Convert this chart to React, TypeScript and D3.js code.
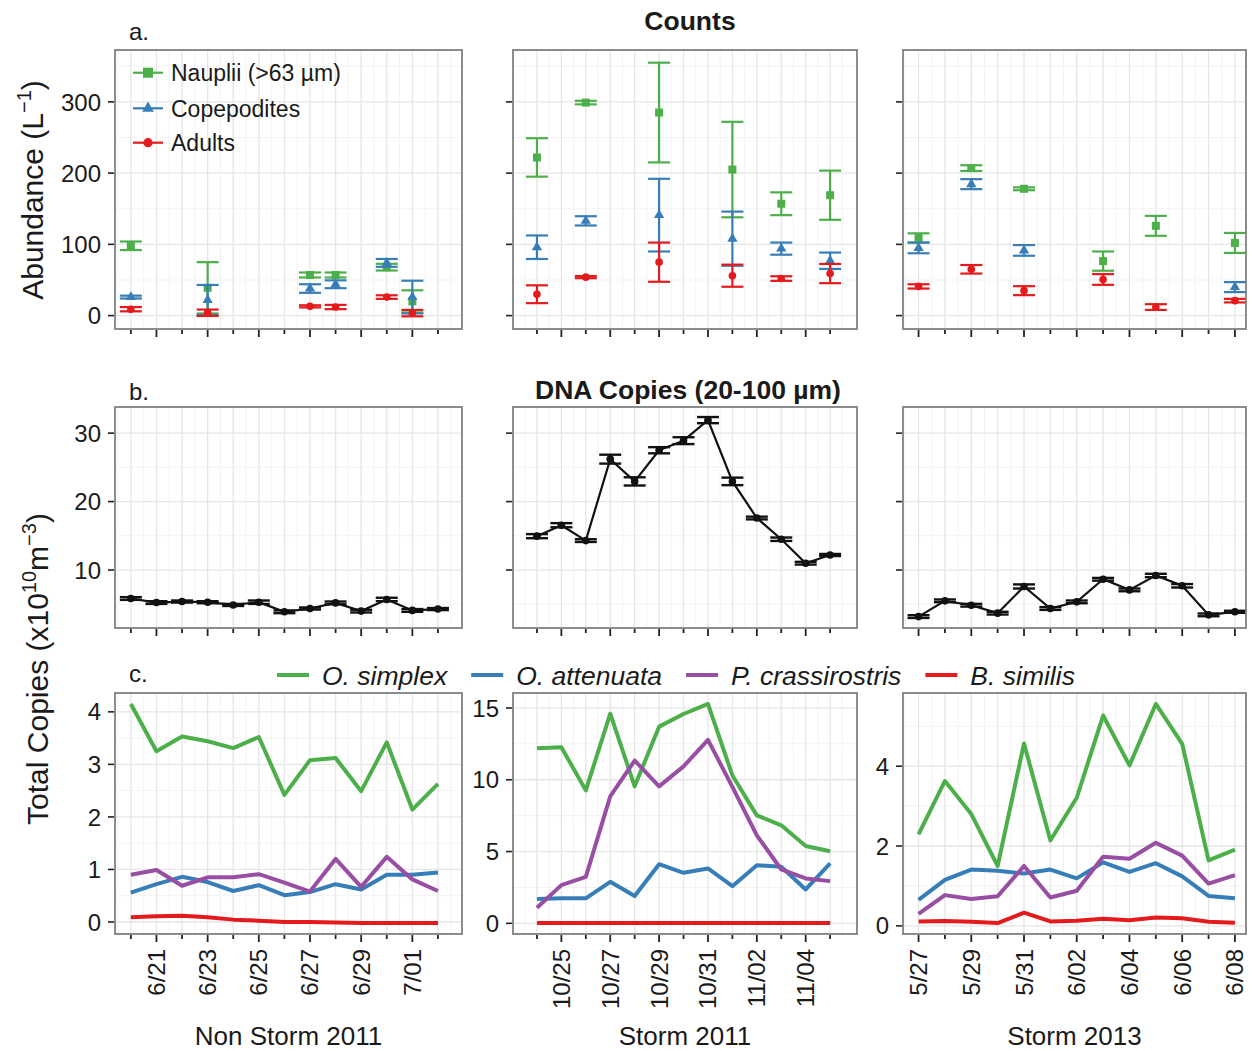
import * as React from "react";
import * as d3 from "d3";

const W = 1252;
const H = 1051;
const FONT = "'Liberation Sans', Arial, Helvetica, sans-serif";

const GREEN = "#4daf4a";
const BLUE = "#377eb8";
const PURPLE = "#984ea3";
const RED = "#e41a1c";

// sampling days on each x axis
const nonStorm2011Days = ["2011-06-20", "2011-06-21", "2011-06-22", "2011-06-23", "2011-06-24", "2011-06-25", "2011-06-26", "2011-06-27", "2011-06-28", "2011-06-29", "2011-06-30", "2011-07-01", "2011-07-02"];
const storm2011Days = ["2011-10-24", "2011-10-25", "2011-10-26", "2011-10-27", "2011-10-28", "2011-10-29", "2011-10-30", "2011-10-31", "2011-11-01", "2011-11-02", "2011-11-03", "2011-11-04", "2011-11-05"];
const storm2013Days = ["2013-05-27", "2013-05-28", "2013-05-29", "2013-05-30", "2013-05-31", "2013-06-01", "2013-06-02", "2013-06-03", "2013-06-04", "2013-06-05", "2013-06-06", "2013-06-07", "2013-06-08"];

const nonStorm2011Labels = ["6/21", "6/23", "6/25", "6/27", "6/29", "7/01"];
const storm2011Labels = ["10/25", "10/27", "10/29", "10/31", "11/02", "11/04"];
const storm2013Labels = ["5/27", "5/29", "5/31", "6/02", "6/04", "6/06", "6/08"];

const groupNames = ["Non Storm 2011", "Storm 2011", "Storm 2013"];

/* a. counts, mean and se (per L) */
const countDaysNonStorm2011 = ["2011-06-20", "2011-06-23", "2011-06-27", "2011-06-28", "2011-06-30", "2011-07-01"];
const naupliiNonStorm2011 = [98, 39, 57, 57, 68, 20];
const naupliiNonStorm2011Se = [6, 36, 3.5, 3.5, 4.7, 15.5];
const copepoditesNonStorm2011 = [26, 22, 38, 44, 74, 26];
const copepoditesNonStorm2011Se = [2, 21, 6, 5.5, 5.5, 23];
const adultsNonStorm2011 = [9, 4, 13, 12, 26, 3.5];
const adultsNonStorm2011Se = [3, 4.5, 1.5, 3, 2.5, 4.5];

const countDaysStorm2011 = ["2011-10-24", "2011-10-26", "2011-10-29", "2011-11-01", "2011-11-03", "2011-11-05"];
const naupliiStorm2011 = [222, 299, 285, 205, 157, 169];
const naupliiStorm2011Se = [27, 2.5, 70, 67, 16, 34.5];
const copepoditesStorm2011 = [96, 133, 141, 108, 94, 77];
const copepoditesStorm2011Se = [16.5, 6.5, 51, 38, 8.5, 11.5];
const adultsStorm2011 = [30, 54, 75, 56, 52, 59];
const adultsStorm2011Se = [12.5, 1.5, 27.5, 15.5, 3.2, 13.5];

const countDaysStorm2013 = ["2013-05-27", "2013-05-29", "2013-05-31", "2013-06-03", "2013-06-05", "2013-06-08"];
const naupliiStorm2013 = [109, 207, 178, 76.5, 126, 102];
const naupliiStorm2013Se = [6.5, 4, 2, 13.5, 14, 14];
const copepoditesStorm2013 = [95, 184.5, 91.5, null, null, 40];
const copepoditesStorm2013Se = [7.5, 7, 7.5, null, null, 7];
const adultsStorm2013 = [41, 65, 35, 50.7, 12, 21];
const adultsStorm2013Se = [3, 6, 6.3, 7.5, 4, 2.5];

/* b. DNA copies (x10^10 m^-3), mean and se */
const dnaNonStorm2011 = [5.84, 5.25, 5.4, 5.3, 4.9, 5.3, 3.9, 4.38, 5.2, 4.0, 5.7, 4.1, 4.3];
const dnaNonStorm2011Se = [0.2, 0.2, 0.15, 0.15, 0.15, 0.25, 0.2, 0.15, 0.2, 0.2, 0.25, 0.2, 0.15];
const dnaStorm2011 = [14.95, 16.55, 14.3, 26.2, 22.95, 27.5, 28.9, 31.9, 22.95, 17.6, 14.5, 11.0, 12.2];
const dnaStorm2011Se = [0.3, 0.3, 0.2, 0.65, 0.6, 0.45, 0.5, 0.45, 0.55, 0.2, 0.25, 0.2, 0.15];
const dnaStorm2013 = [3.2, 5.5, 4.86, 3.7, 7.6, 4.38, 5.35, 8.65, 7.1, 9.2, 7.7, 3.45, 3.9];
const dnaStorm2013Se = [0.2, 0.2, 0.2, 0.2, 0.3, 0.2, 0.2, 0.2, 0.2, 0.25, 0.25, 0.2, 0.15];

/* c. total copies per species */
const simplexNonStorm2011 = [4.15, 3.25, 3.53, 3.44, 3.31, 3.52, 2.42, 3.08, 3.12, 2.49, 3.42, 2.14, 2.63];
const attenuataNonStorm2011 = [0.56, 0.72, 0.86, 0.76, 0.59, 0.7, 0.51, 0.57, 0.72, 0.62, 0.9, 0.9, 0.94];
const crassirostrisNonStorm2011 = [0.9, 0.99, 0.69, 0.85, 0.85, 0.91, 0.75, 0.58, 1.2, 0.67, 1.24, 0.81, 0.59];
const similisNonStorm2011 = [0.09, 0.11, 0.12, 0.09, 0.045, 0.026, 0, 0, -0.01, -0.02, -0.02, -0.02, -0.02];

const simplexStorm2011 = [12.2, 12.27, 9.26, 14.6, 9.54, 13.7, 14.58, 15.28, 10.3, 7.52, 6.83, 5.39, 5.02];
const attenuataStorm2011 = [1.69, 1.74, 1.74, 2.89, 1.9, 4.12, 3.52, 3.82, 2.59, 4.05, 3.94, 2.36, 4.17];
const crassirostrisStorm2011 = [1.09, 2.66, 3.24, 8.84, 11.34, 9.54, 10.93, 12.78, 9.5, 6.13, 3.75, 3.13, 2.94];
const similisStorm2011 = [0.02, 0.02, 0.02, 0.02, 0.02, 0.03, 0.03, 0.03, 0.03, 0.03, 0.03, 0.03, 0.03];

const simplexStorm2013 = [2.29, 3.63, 2.8, 1.5, 4.57, 2.14, 3.21, 5.27, 4.02, 5.56, 4.56, 1.64, 1.91];
const attenuataStorm2013 = [0.65, 1.15, 1.41, 1.38, 1.31, 1.41, 1.19, 1.59, 1.35, 1.57, 1.24, 0.75, 0.69];
const crassirostrisStorm2013 = [0.3, 0.77, 0.67, 0.74, 1.5, 0.71, 0.88, 1.73, 1.68, 2.08, 1.76, 1.06, 1.27];
const similisStorm2013 = [0.11, 0.12, 0.1, 0.07, 0.33, 0.11, 0.13, 0.18, 0.14, 0.21, 0.19, 0.1, 0.08];

const stageNames = ["Nauplii (>63 \u00b5m)", "Copepodites", "Adults"];
const speciesNames = ["O. simplex", "O. attenuata", "P. crassirostris", "B. similis"];

const parseDay = d3.utcParse("%Y-%m-%d");
const fmtDay = d3.utcFormat("%-m/%d");
const DAY = 864e5;

// panel layout
const rowA = { top: 50, bottom: 329 };
const rowB = { top: 407, bottom: 628 };
const rowC = { top: 693, bottom: 934 };

const columns = [
  {
    x0: 115, x1: 462, padL: 0.62, padR: 0.94,
    days: nonStorm2011Days, labels: nonStorm2011Labels, name: groupNames[0],
    countDays: countDaysNonStorm2011,
    counts: [
      [naupliiNonStorm2011, naupliiNonStorm2011Se],
      [copepoditesNonStorm2011, copepoditesNonStorm2011Se],
      [adultsNonStorm2011, adultsNonStorm2011Se],
    ],
    dna: dnaNonStorm2011, dnaSe: dnaNonStorm2011Se,
    copies: [simplexNonStorm2011, attenuataNonStorm2011, crassirostrisNonStorm2011, similisNonStorm2011],
    cStep: 1,
  },
  {
    x0: 513, x1: 857, padL: 0.98, padR: 1.1,
    days: storm2011Days, labels: storm2011Labels, name: groupNames[1],
    countDays: countDaysStorm2011,
    counts: [
      [naupliiStorm2011, naupliiStorm2011Se],
      [copepoditesStorm2011, copepoditesStorm2011Se],
      [adultsStorm2011, adultsStorm2011Se],
    ],
    dna: dnaStorm2011, dnaSe: dnaStorm2011Se,
    copies: [simplexStorm2011, attenuataStorm2011, crassirostrisStorm2011, similisStorm2011],
    cStep: 5,
  },
  {
    x0: 903, x1: 1246, padL: 0.59, padR: 0.42,
    days: storm2013Days, labels: storm2013Labels, name: groupNames[2],
    countDays: countDaysStorm2013,
    counts: [
      [naupliiStorm2013, naupliiStorm2013Se],
      [copepoditesStorm2013, copepoditesStorm2013Se],
      [adultsStorm2013, adultsStorm2013Se],
    ],
    dna: dnaStorm2013, dnaSe: dnaStorm2013Se,
    copies: [simplexStorm2013, attenuataStorm2013, crassirostrisStorm2013, similisStorm2013],
    cStep: 2,
  },
];

const stageColors = [GREEN, BLUE, RED];
const stageShapes = ["square", "triangle", "circle"];
const speciesColors = [GREEN, BLUE, PURPLE, RED];

function expand(lo: number, hi: number): [number, number] {
  const p = (hi - lo) * 0.05;
  return [lo - p, hi + p];
}

function marker(g: any, shape: string, cx: number, cy: number, color: string, big = false) {
  if (shape === "square") {
    const s = big ? 10 : 8;
    g.append("rect").attr("x", cx - s / 2).attr("y", cy - s / 2).attr("width", s).attr("height", s).attr("fill", color);
  } else if (shape === "triangle") {
    g.append("path")
      .attr("d", d3.symbol().type(d3.symbolTriangle).size(big ? 60 : 46)()!)
      .attr("transform", `translate(${cx},${cy})`)
      .attr("fill", color);
  } else {
    g.append("circle").attr("cx", cx).attr("cy", cy).attr("r", big ? 4.6 : 3.8).attr("fill", color);
  }
}

// background + grid of one panel, returns the major y ticks
function panelGrid(g: any, x: any, y: any, days: Date[], yStep: number) {
  const [x0, x1] = x.range();
  const [yb, yt] = y.range();
  const [v0, v1] = y.domain();
  const yMajor = d3.range(Math.ceil(v0 / yStep) * yStep, v1, yStep);
  const half = yStep / 2;
  const yMinor = d3
    .range(Math.ceil(v0 / half) * half, v1, half)
    .filter((v) => Math.abs(v / yStep - Math.round(v / yStep)) > 1e-6);
  const [t0, t1] = x.domain();
  const xMinor = [new Date(+days[0] - DAY / 2), ...days.map((d) => new Date(+d + DAY / 2))].filter(
    (d) => d >= t0 && d <= t1
  );

  g.append("rect").attr("x", x0).attr("y", yt).attr("width", x1 - x0).attr("height", yb - yt).attr("fill", "#fff");

  const grid = g.append("g").attr("fill", "none");
  grid.selectAll(null).data(yMinor).join("line")
    .attr("x1", x0).attr("x2", x1).attr("y1", (d: number) => y(d)).attr("y2", (d: number) => y(d))
    .attr("stroke", "#f3f3f3").attr("stroke-width", 1);
  grid.selectAll(null).data(xMinor).join("line")
    .attr("x1", (d: Date) => x(d)).attr("x2", (d: Date) => x(d)).attr("y1", yt).attr("y2", yb)
    .attr("stroke", "#f3f3f3").attr("stroke-width", 1);
  grid.selectAll(null).data(yMajor).join("line")
    .attr("x1", x0).attr("x2", x1).attr("y1", (d: number) => y(d)).attr("y2", (d: number) => y(d))
    .attr("stroke", "#e6e6e6").attr("stroke-width", 1.3);
  grid.selectAll(null).data(days).join("line")
    .attr("x1", (d: Date) => x(d)).attr("x2", (d: Date) => x(d)).attr("y1", yt).attr("y2", yb)
    .attr("stroke", "#e6e6e6").attr("stroke-width", 1.3);
  return yMajor;
}

// border, ticks and tick labels of one panel
function panelAxes(g: any, x: any, y: any, days: Date[], labels: string[], yMajor: number[], showY: boolean, showX: boolean) {
  const [x0, x1] = x.range();
  const [yb, yt] = y.range();
  g.append("rect").attr("x", x0).attr("y", yt).attr("width", x1 - x0).attr("height", yb - yt)
    .attr("fill", "none").attr("stroke", "#808080").attr("stroke-width", 1.8);

  g.selectAll(null).data(yMajor).join("line")
    .attr("x1", x0 - 7).attr("x2", x0 - 1).attr("y1", (d: number) => y(d)).attr("y2", (d: number) => y(d))
    .attr("stroke", "#222").attr("stroke-width", 1.6);
  if (showY) {
    g.selectAll(null).data(yMajor).join("text")
      .attr("x", x0 - 14).attr("y", (d: number) => y(d)).attr("dy", "0.36em")
      .attr("text-anchor", "end").attr("font-size", 24).attr("fill", "#1a1a1a")
      .text((d: number) => d3.format("d")(d));
  }

  g.selectAll(null).data(days).join("line")
    .attr("x1", (d: Date) => x(d)).attr("x2", (d: Date) => x(d))
    .attr("y1", yb + 1).attr("y2", (d: Date) => yb + (labels.includes(fmtDay(d)) ? 8 : 5))
    .attr("stroke", "#222").attr("stroke-width", 1.8);
  if (showX) {
    const lab = days.filter((d) => labels.includes(fmtDay(d)));
    g.selectAll(null).data(lab).join("text")
      .attr("transform", (d: Date) => `translate(${x(d) + 8.5},${yb + 15}) rotate(-90)`)
      .attr("text-anchor", "end").attr("font-size", 24).attr("fill", "#1a1a1a")
      .text((d: Date) => fmtDay(d));
  }
}

function drawFigure(svgEl: SVGSVGElement) {
  const svg = d3.select(svgEl);
  svg.selectAll("*").remove();
  svg.attr("width", W).attr("height", H).style("font-family", FONT);
  svg.append("rect").attr("width", W).attr("height", H).attr("fill", "#fff");

  // shared y scales for rows a and b
  const countLo: number[] = [];
  const countHi: number[] = [];
  const dnaLo: number[] = [];
  const dnaHi: number[] = [];
  columns.forEach((c) => {
    c.counts.forEach(([m, s]) =>
      m.forEach((v, i) => {
        if (v == null) return;
        countLo.push(v - (s[i] as number));
        countHi.push(v + (s[i] as number));
      })
    );
    c.dna.forEach((v, i) => {
      dnaLo.push(v - c.dnaSe[i]);
      dnaHi.push(v + c.dnaSe[i]);
    });
  });
  const yA = d3.scaleLinear().domain(expand(d3.min(countLo)!, d3.max(countHi)!)).range([rowA.bottom, rowA.top]);
  const yB = d3.scaleLinear().domain(expand(d3.min(dnaLo)!, d3.max(dnaHi)!)).range([rowB.bottom, rowB.top]);

  columns.forEach((c, ci) => {
    const days = c.days.map((d) => parseDay(d)!);
    const x = d3
      .scaleUtc()
      .domain([new Date(+days[0] - c.padL * DAY), new Date(+days[days.length - 1] + c.padR * DAY)])
      .range([c.x0, c.x1]);

    /* a. counts */
    const ga = svg.append("g");
    const ticksA = panelGrid(ga, x, yA, days, 100);
    const cDays = c.countDays.map((d) => parseDay(d)!);
    c.counts.forEach(([mean, se], si) => {
      const pts = cDays
        .map((d, i) => ({ d, m: mean[i], s: se[i] }))
        .filter((p) => p.m != null) as { d: Date; m: number; s: number }[];
      const eg = ga.append("g").attr("stroke", stageColors[si]).attr("stroke-width", 2.2);
      pts.forEach((p) => {
        const cx = x(p.d);
        eg.append("line").attr("x1", cx).attr("x2", cx).attr("y1", yA(p.m - p.s)).attr("y2", yA(p.m + p.s));
        eg.append("line").attr("x1", cx - 11).attr("x2", cx + 11).attr("y1", yA(p.m - p.s)).attr("y2", yA(p.m - p.s));
        eg.append("line").attr("x1", cx - 11).attr("x2", cx + 11).attr("y1", yA(p.m + p.s)).attr("y2", yA(p.m + p.s));
        marker(ga, stageShapes[si], cx, yA(p.m), stageColors[si]);
      });
    });
    panelAxes(ga, x, yA, days, c.labels, ticksA, ci === 0, false);

    /* b. DNA copies */
    const gb = svg.append("g");
    const ticksB = panelGrid(gb, x, yB, days, 10);
    const line = d3.line<number>().x((_, i) => x(days[i])).y((v) => yB(v));
    gb.append("path").attr("d", line(c.dna)).attr("fill", "none").attr("stroke", "#111").attr("stroke-width", 2.2);
    c.dna.forEach((v, i) => {
      const cx = x(days[i]);
      const lo = yB(v - c.dnaSe[i]);
      const hi = yB(v + c.dnaSe[i]);
      gb.append("line").attr("x1", cx).attr("x2", cx).attr("y1", lo).attr("y2", hi).attr("stroke", "#111").attr("stroke-width", 2.2);
      [lo, hi].forEach((yy) =>
        gb.append("line").attr("x1", cx - 11).attr("x2", cx + 11).attr("y1", yy).attr("y2", yy).attr("stroke", "#111").attr("stroke-width", 2.4)
      );
      gb.append("circle").attr("cx", cx).attr("cy", yB(v)).attr("r", 3.8).attr("fill", "#111");
    });
    panelAxes(gb, x, yB, days, c.labels, ticksB, ci === 0, false);

    /* c. total copies per species */
    const all = c.copies.flat();
    const yC = d3.scaleLinear().domain(expand(d3.min(all)!, d3.max(all)!)).range([rowC.bottom, rowC.top]);
    const gc = svg.append("g");
    const ticksC = panelGrid(gc, x, yC, days, c.cStep);
    const lineC = d3.line<number>().x((_, i) => x(days[i])).y((v) => yC(v));
    c.copies.forEach((vals, k) => {
      gc.append("path").attr("d", lineC(vals)).attr("fill", "none")
        .attr("stroke", speciesColors[k]).attr("stroke-width", 4).attr("stroke-linejoin", "round");
    });
    panelAxes(gc, x, yC, days, c.labels, ticksC, true, true);

    // group name under the column
    svg.append("text").attr("x", (c.x0 + c.x1) / 2).attr("y", 1045).attr("text-anchor", "middle")
      .attr("font-size", 26).attr("fill", "#1a1a1a").text(c.name);
  });

  /* legend for a. */
  const la = svg.append("g");
  stageNames.forEach((name, i) => {
    const ly = [72.7, 108.3, 142.7][i];
    la.append("line").attr("x1", 133).attr("x2", 163).attr("y1", ly).attr("y2", ly)
      .attr("stroke", stageColors[i]).attr("stroke-width", 2.2);
    marker(la, stageShapes[i], 148, ly, stageColors[i], true);
    la.append("text").attr("x", 171).attr("y", ly).attr("dy", "0.36em").attr("font-size", 23)
      .attr("fill", "#1a1a1a").text(name);
  });

  /* legend for c. */
  const lc = svg.append("g");
  let lx = 277;
  speciesNames.forEach((name, i) => {
    lc.append("line").attr("x1", lx).attr("x2", lx + 32).attr("y1", 675).attr("y2", 675)
      .attr("stroke", speciesColors[i]).attr("stroke-width", 4);
    const t = lc.append("text").attr("x", lx + 45).attr("y", 675).attr("dy", "0.36em")
      .attr("font-size", 26.5).attr("font-style", "italic").attr("fill", "#1a1a1a").text(name);
    lx += 45 + (t.node() as SVGTextElement).getComputedTextLength() + 24;
  });

  /* titles and panel letters */
  svg.append("text").attr("x", 690).attr("y", 30).attr("text-anchor", "middle")
    .attr("font-size", 26.5).attr("font-weight", "bold").attr("fill", "#1a1a1a").text("Counts");
  svg.append("text").attr("x", 688).attr("y", 399).attr("text-anchor", "middle")
    .attr("font-size", 26.5).attr("font-weight", "bold").attr("fill", "#1a1a1a").text("DNA Copies (20-100 \u00b5m)");
  [["a.", 40], ["b.", 400], ["c.", 682]].forEach(([t, yy]) =>
    svg.append("text").attr("x", 129).attr("y", yy as number).attr("font-size", 24).attr("fill", "#1a1a1a").text(t as string)
  );

  const ta = svg.append("text").attr("transform", "translate(43,190) rotate(-90)")
    .attr("text-anchor", "middle").attr("font-size", 30).attr("fill", "#1a1a1a");
  ta.append("tspan").text("Abundance (L");
  ta.append("tspan").attr("font-size", 20).attr("dy", -12).text("\u22121");
  ta.append("tspan").attr("dy", 12).text(")");

  const tb = svg.append("text").attr("transform", "translate(48,669) rotate(-90)")
    .attr("text-anchor", "middle").attr("font-size", 30).attr("fill", "#1a1a1a");
  tb.append("tspan").text("Total Copies (x10");
  tb.append("tspan").attr("font-size", 20).attr("dy", -12).text("10");
  tb.append("tspan").attr("dy", 12).text("m");
  tb.append("tspan").attr("font-size", 20).attr("dy", -12).text("\u22123");
  tb.append("tspan").attr("dy", 12).text(")");
}

export default function App() {
  const svgRef = React.useRef<SVGSVGElement>(null);
  React.useEffect(() => {
    if (svgRef.current) drawFigure(svgRef.current);
  }, []);
  return <svg ref={svgRef} style={{ position: "absolute", left: 0, top: 0, display: "block" }} />;
}
